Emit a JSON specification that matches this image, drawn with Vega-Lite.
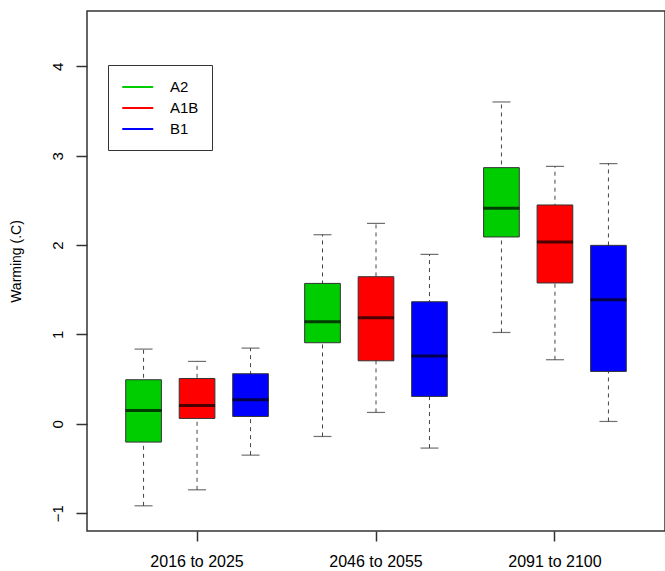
{
  "$schema": "https://vega.github.io/schema/vega-lite/v6.json",
  "width": 578,
  "height": 520,
  "autosize": {"type": "none"},
  "padding": {"left": 87, "top": 11, "right": 0, "bottom": 40},
  "background": "white",
  "config": {
    "view": {"stroke": "#333333", "strokeWidth": 1.5},
    "font": "Liberation Sans"
  },
  "data": {
    "values": [
      {"period": "2016 to 2025", "scenario": "A2", "lower": -0.918, "q1": -0.205, "median": 0.149, "q3": 0.493, "upper": 0.836},
      {"period": "2016 to 2025", "scenario": "A1B", "lower": -0.739, "q1": 0.060, "median": 0.205, "q3": 0.507, "upper": 0.698},
      {"period": "2016 to 2025", "scenario": "B1", "lower": -0.351, "q1": 0.082, "median": 0.269, "q3": 0.560, "upper": 0.847},
      {"period": "2046 to 2055", "scenario": "A2", "lower": -0.142, "q1": 0.907, "median": 1.142, "q3": 1.571, "upper": 2.116},
      {"period": "2046 to 2055", "scenario": "A1B", "lower": 0.127, "q1": 0.705, "median": 1.187, "q3": 1.646, "upper": 2.243},
      {"period": "2046 to 2055", "scenario": "B1", "lower": -0.272, "q1": 0.306, "median": 0.758, "q3": 1.366, "upper": 1.896},
      {"period": "2091 to 2100", "scenario": "A2", "lower": 1.022, "q1": 2.091, "median": 2.411, "q3": 2.867, "upper": 3.602},
      {"period": "2091 to 2100", "scenario": "A1B", "lower": 0.717, "q1": 1.576, "median": 2.035, "q3": 2.449, "upper": 2.881},
      {"period": "2091 to 2100", "scenario": "B1", "lower": 0.026, "q1": 0.586, "median": 1.389, "q3": 1.997, "upper": 2.912}
    ]
  },
  "encoding": {
    "x": {
      "field": "period", "type": "nominal",
      "scale": {"paddingInner": 0, "paddingOuter": 0.115},
      "axis": {
        "title": null, "domain": false, "grid": false, "labelAngle": 0,
        "tickSize": 10, "tickColor": "#333333", "tickWidth": 1.5,
        "labelFontSize": 16, "labelColor": "#000000", "labelPadding": 12
      }
    },
    "xOffset": {
      "field": "scenario", "type": "nominal", "sort": ["A2", "A1B", "B1"],
      "scale": {"paddingInner": 0.333, "paddingOuter": 0.339}
    }
  },
  "layer": [
    {
      "mark": {"type": "rule", "strokeDash": [4, 4], "color": "#444444", "strokeWidth": 1},
      "encoding": {
        "y": {
          "field": "lower", "type": "quantitative",
          "scale": {"domain": [-1.2, 4.62], "nice": false, "zero": false},
          "axis": {
            "title": "Warming (.C)", "values": [-1, 0, 1, 2, 3, 4], "format": "d", "grid": false, "domain": false,
            "tickSize": 11, "tickColor": "#333333", "tickWidth": 1.5,
            "labelAngle": -90, "labelAlign": "center", "labelBaseline": "bottom",
            "labelFontSize": 15, "labelColor": "#000000", "labelPadding": 11,
            "titleFontSize": 14, "titleFontWeight": "normal", "titleColor": "#000000",
            "titleAngle": -90, "titleX": -71, "titleY": 250, "titleAlign": "center", "titleBaseline": "middle"
          }
        },
        "y2": {"field": "upper"}
      }
    },
    {
      "mark": {"type": "rule", "strokeWidth": 0},
      "encoding": {
        "y": {"field": "lower", "type": "quantitative"},
        "y2": {"field": "upper"},
        "stroke": {
          "field": "scenario", "type": "nominal", "sort": ["A2", "A1B", "B1"],
          "scale": {"domain": ["A2", "A1B", "B1"], "range": ["#00CD00", "#FF0000", "#0000FF"]},
          "legend": {
            "title": null, "orient": "none", "legendX": 21, "legendY": 54,
            "strokeColor": "#333333", "fillColor": "white", "padding": 13,
            "symbolType": "M-1,0L3,0", "symbolSize": 240, "symbolStrokeWidth": 2,
            "labelFontSize": 15, "labelColor": "#000000", "labelOffset": 31, "rowPadding": 4,
            "encode": {"symbols": {"update": {"strokeWidth": {"value": 2}, "opacity": {"value": 1}}}}
          }
        }
      }
    },
    {
      "mark": {"type": "tick", "color": "#333333", "thickness": 1.2, "size": 18, "orient": "horizontal"},
      "encoding": {"y": {"field": "lower", "type": "quantitative"}}
    },
    {
      "mark": {"type": "tick", "color": "#333333", "thickness": 1.2, "size": 18, "orient": "horizontal"},
      "encoding": {"y": {"field": "upper", "type": "quantitative"}}
    },
    {
      "mark": {"type": "bar", "stroke": "#333333", "strokeWidth": 1},
      "encoding": {
        "y": {"field": "q1", "type": "quantitative"},
        "y2": {"field": "q3"},
        "color": {
          "field": "scenario", "type": "nominal", "sort": ["A2", "A1B", "B1"],
          "scale": {"domain": ["A2", "A1B", "B1"], "range": ["#00CD00", "#FF0000", "#0000FF"]},
          "legend": null
        }
      }
    },
    {
      "mark": {"type": "tick", "color": "#000000", "thickness": 3, "size": 36, "orient": "horizontal"},
      "encoding": {"y": {"field": "median", "type": "quantitative"}}
    }
  ]
}
